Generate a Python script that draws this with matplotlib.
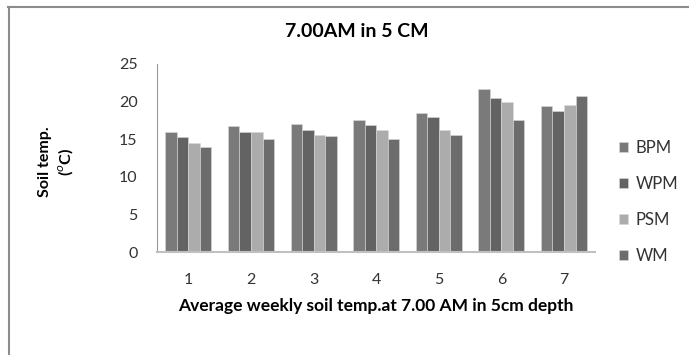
import matplotlib
matplotlib.use("Agg")
import matplotlib.pyplot as plt
import numpy as np
from matplotlib.lines import Line2D

weeks = ["1", "2", "3", "4", "5", "6", "7"]
series_names = ["BPM", "WPM", "PSM", "WM"]
bpm = [15.9, 16.8, 17.0, 17.5, 18.5, 21.6, 19.4]
wpm = [15.3, 15.9, 16.2, 16.9, 17.9, 20.5, 18.7]
psm = [14.5, 15.9, 15.5, 16.2, 16.2, 20.0, 19.6]
wm = [13.9, 15.0, 15.4, 15.0, 15.5, 17.6, 20.7]
yticks = [0, 5, 10, 15, 20, 25]

colors = ["#7a7a7a", "#636363", "#acacac", "#6c6c6c"]

plt.rcParams["font.family"] = ["Lato", "DejaVu Sans"]

fig = plt.figure(figsize=(6.89, 3.55), dpi=100)
ax = fig.add_axes([0.228, 0.290, 0.636, 0.530])

x = np.arange(len(weeks))
width = 0.184
for i, (name, vals) in enumerate(zip(series_names, [bpm, wpm, psm, wm])):
    ax.bar(x + (i - 1.5) * width, vals, width, color=colors[i], label=name,
           edgecolor="#d9d9d9", linewidth=0.4)

ax.set_xlim(-0.5, len(weeks) - 0.5)
ax.set_ylim(0, 25)
ax.set_yticks(yticks)
ax.set_xticks(x)
ax.set_xticklabels(weeks)
ax.tick_params(axis="both", length=0, labelsize=11.5, colors="#333333")
ax.tick_params(axis="x", pad=15)
ax.tick_params(axis="y", pad=14)

for s in ["top", "right"]:
    ax.spines[s].set_visible(False)
ax.spines["left"].set_color("#999999")
ax.spines["left"].set_linewidth(0.8)
ax.spines["bottom"].set_color("#c0c0c0")
ax.spines["bottom"].set_linewidth(1.5)

ax.set_xlabel("Average weekly soil temp.at 7.00 AM in 5cm depth",
              fontsize=12.5, fontweight="bold", labelpad=8)

fig.text(0.518, 0.910, "7.00AM in 5 CM", ha="center", va="center",
         fontsize=14, fontweight="bold")
fig.text(0.082, 0.545, "Soil temp.\n($^{o}$C)", ha="center", va="center",
         rotation=90, fontsize=11.5, fontweight="bold", linespacing=1.25)

leg = ax.legend(loc="center left", bbox_to_anchor=(1.02, 0.265), frameon=False,
                fontsize=12, handlelength=0.55, handleheight=0.55,
                handletextpad=0.45, labelspacing=1.2)
for t in leg.get_texts():
    t.set_color("#333333")

# outer chart frame (top and left edges)
fig.add_artist(Line2D([0.012, 1.0], [0.980, 0.980], transform=fig.transFigure,
                      color="#8c8c8c", linewidth=1.5))
fig.add_artist(Line2D([0.013, 0.013], [0.0, 0.980], transform=fig.transFigure,
                      color="#8c8c8c", linewidth=1.5))

fig.savefig("out.png", dpi=100)
